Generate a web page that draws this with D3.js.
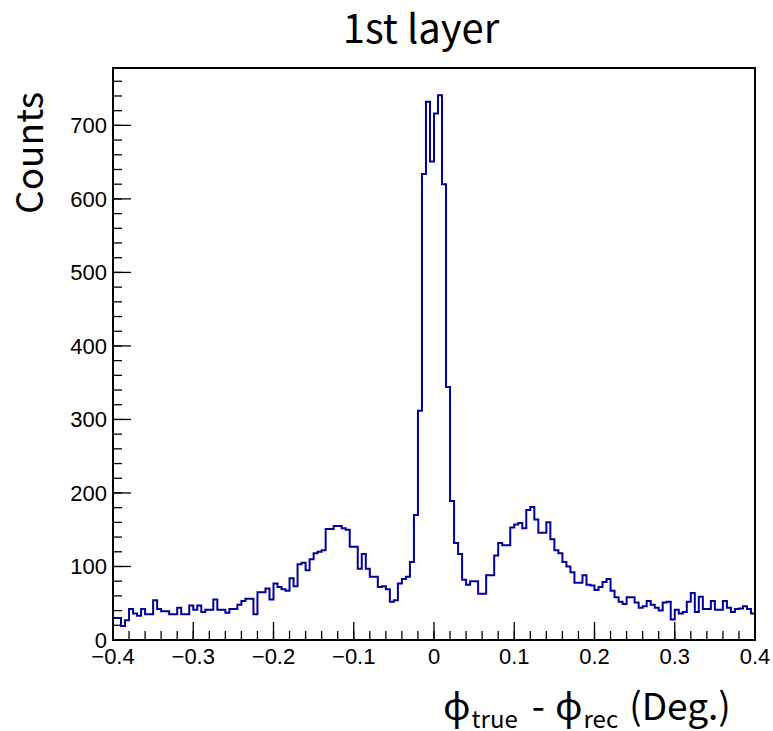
<!DOCTYPE html>
<html>
<head>
<meta charset="utf-8">
<script src="https://cdn.jsdelivr.net/npm/d3@7/dist/d3.min.js"></script>
<style>
  body { margin: 0; background: #fff; }
</style>
</head>
<body>
<div id="chart"></div>
<script>
// histogram: 160 bins from -0.4 to 0.4 (width 0.005)
var binLow = -0.4, binHigh = 0.4;
var counts = [
  30, 30, 19, 27, 42, 36, 33, 42, 35, 35,
  54, 42, 39, 39, 35, 35, 44, 35, 35, 47,
  41, 47, 38, 41, 41, 55, 41, 41, 37, 42,
  42, 48, 53, 56, 56, 35, 65, 65, 70, 55,
  77, 72, 69, 67, 84, 73, 103, 105, 95, 110,
  118, 120, 122, 151, 151, 155, 155, 152, 150, 127,
  127, 97, 117, 97, 86, 86, 72, 73, 69, 52,
  54, 77, 83, 86, 106, 170, 312, 634, 732, 651,
  716, 741, 620, 344, 189, 132, 117, 82, 75, 80,
  80, 63, 63, 88, 88, 115, 132, 129, 129, 153,
  157, 159, 152, 177, 181, 164, 146, 146, 160, 137,
  122, 118, 106, 100, 92, 78, 78, 88, 75, 74,
  68, 72, 79, 83, 67, 58, 52, 49, 58, 58,
  51, 44, 46, 53, 48, 44, 40, 51, 52, 28,
  41, 36, 38, 52, 64, 38, 59, 42, 42, 53,
  41, 41, 53, 44, 38, 42, 43, 46, 42, 36
];
var xMajorTicks = [-0.4, -0.3, -0.2, -0.1, 0, 0.1, 0.2, 0.3, 0.4];
var yMajorTicks = [0, 100, 200, 300, 400, 500, 600, 700];
var titleText = "1st layer";
var yTitle = "Counts";

var margin = {top: 68, right: 18, bottom: 91, left: 113},
    width = 773 - margin.left - margin.right,
    height = 731 - margin.top - margin.bottom;

var svg = d3.select("#chart").append("svg")
    .attr("width", 773)
    .attr("height", 731)
    .style("background-color", "white");

var g = svg.append("g")
    .attr("transform", "translate(" + margin.left + "," + margin.top + ")");

var nBins = counts.length;
var binW = (binHigh - binLow) / nBins;
var yMax = d3.max(counts) * 1.05;

var x = d3.scaleLinear().domain([binLow, binHigh]).range([0, width]);
var y = d3.scaleLinear().domain([0, yMax]).range([height, 0]);

// minor ticks
var xMinor = d3.range(0, 41).map(function(i) { return binLow + i * 0.02; });
var yMinor = d3.range(0, 39).map(function(i) { return i * 20; })
    .filter(function(v) { return v <= yMax; });

g.selectAll(".xminor").data(xMinor).enter().append("line")
    .attr("x1", function(d) { return x(d); })
    .attr("x2", function(d) { return x(d); })
    .attr("y1", height).attr("y2", height - 9)
    .attr("stroke", "black").attr("stroke-width", 1.3);
g.selectAll(".xmajor").data(xMajorTicks).enter().append("line")
    .attr("x1", function(d) { return x(d); })
    .attr("x2", function(d) { return x(d); })
    .attr("y1", height).attr("y2", height - 18)
    .attr("stroke", "black").attr("stroke-width", 1.3);
g.selectAll(".yminor").data(yMinor).enter().append("line")
    .attr("y1", function(d) { return y(d); })
    .attr("y2", function(d) { return y(d); })
    .attr("x1", 0).attr("x2", 9)
    .attr("stroke", "black").attr("stroke-width", 1.3);
g.selectAll(".ymajor").data(yMajorTicks).enter().append("line")
    .attr("y1", function(d) { return y(d); })
    .attr("y2", function(d) { return y(d); })
    .attr("x1", 0).attr("x2", 18)
    .attr("stroke", "black").attr("stroke-width", 1.3);

// tick labels
var fmtX = function(d) {
  if (Math.abs(d) < 1e-9) return "0";
  return (d < 0 ? "\u2212" : "") + Math.abs(d).toFixed(1);
};
g.selectAll(".xlab").data(xMajorTicks).enter().append("text")
    .attr("x", function(d) { return x(d); })
    .attr("y", height + 24)
    .attr("text-anchor", "middle")
    .style("font-family", "'Liberation Sans', Arial, sans-serif")
    .style("font-size", "22px")
    .text(fmtX);
g.selectAll(".ylab").data(yMajorTicks).enter().append("text")
    .attr("x", -6)
    .attr("y", function(d) { return y(d); })
    .attr("dy", "0.36em")
    .attr("text-anchor", "end")
    .style("font-family", "'Liberation Sans', Arial, sans-serif")
    .style("font-size", "22px")
    .text(function(d) { return d; });

// histogram outline
var pts = [];
counts.forEach(function(c, i) {
  pts.push([binLow + i * binW, c]);
  pts.push([binLow + (i + 1) * binW, c]);
});
var line = d3.line()
    .x(function(d) { return x(d[0]); })
    .y(function(d) { return y(d[1]); });
g.append("path")
    .datum(pts)
    .attr("d", line)
    .attr("fill", "none")
    .attr("stroke", "#000099")
    .attr("stroke-width", 2);

// frame
g.append("rect")
    .attr("x", 0).attr("y", 0)
    .attr("width", width).attr("height", height)
    .attr("fill", "none")
    .attr("stroke", "black")
    .attr("stroke-width", 2);

// titles
var titleFont = "'Noto Sans CJK KR', 'Noto Sans', sans-serif";
svg.append("text")
    .attr("x", 421)
    .attr("y", 43)
    .attr("text-anchor", "middle")
    .style("font-family", titleFont)
    .style("font-size", "40px")
    .text(titleText);

svg.append("text")
    .attr("transform", "translate(43,92) rotate(-90)")
    .attr("text-anchor", "end")
    .style("font-family", titleFont)
    .style("font-size", "37px")
    .text(yTitle);

// x title, pieces laid out left to right
var xTitleParts = [
  {t: "\u03D5", size: 38, dy: 0, gap: 1},
  {t: "true", size: 24, dy: 8, gap: 14},
  {t: "-", size: 38, dy: 0, gap: 10},
  {t: "\u03D5", size: 38, dy: 0, gap: 1},
  {t: "rec", size: 24, dy: 8, gap: 11},
  {t: "(Deg.)", size: 37, dy: 0, gap: 0}
];
var cx = 443;
xTitleParts.forEach(function(p) {
  var el = svg.append("text")
      .attr("x", cx)
      .attr("y", 720 + p.dy)
      .style("font-family", titleFont)
      .style("font-size", p.size + "px")
      .text(p.t);
  cx += el.node().getComputedTextLength() + p.gap;
});
</script>
</body>
</html>
